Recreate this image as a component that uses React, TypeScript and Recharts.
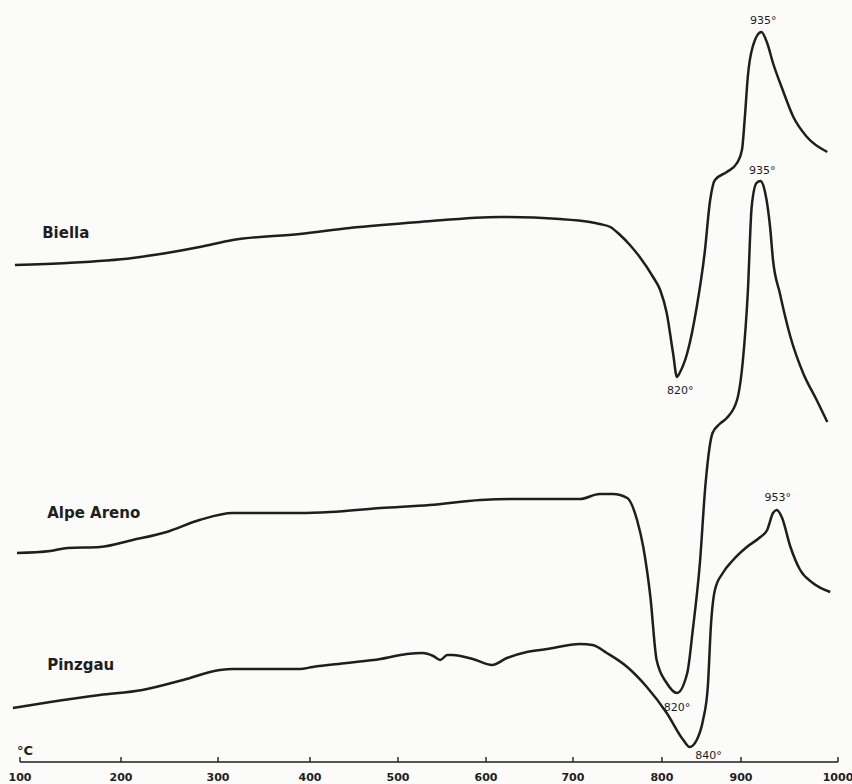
import { LineChart, Line, XAxis, YAxis, ReferenceDot } from 'recharts';

// temperature (°C) and deflection (arbitrary units)
const biellaT = [95, 147, 212, 247, 281, 316, 389, 445, 525, 616, 685, 719, 730, 742, 753, 764, 775, 790, 798, 806, 814, 819, 823, 832, 844, 854, 861, 867, 882, 895, 901, 904, 907, 912, 921, 927, 933, 943, 954, 968, 989];
const biellaV = [49.7, 49.9, 50.4, 50.9, 51.5, 52.2, 52.8, 53.4, 54.0, 54.5, 54.3, 54.0, 53.8, 53.5, 52.7, 51.7, 50.5, 48.5, 47.2, 44.9, 40.9, 38.5, 39.0, 40.9, 45.5, 50.9, 56.2, 58.2, 59.0, 59.9, 61.2, 64.5, 68.5, 71.5, 73.0, 71.9, 69.9, 67.2, 64.5, 62.5, 61.0];

const alpeT = [97, 130, 147, 179, 212, 247, 281, 316, 353, 389, 423, 480, 536, 594, 631, 689, 708, 730, 745, 761, 772, 779, 787, 794, 806, 819, 832, 839, 848, 855, 864, 873, 882, 895, 902, 907, 911, 916, 920, 925, 930, 933, 940, 951, 964, 978, 989];
const alpeV = [20.9, 21.1, 21.4, 21.5, 22.2, 23.0, 24.2, 24.9, 24.9, 24.9, 25.0, 25.4, 25.7, 26.2, 26.3, 26.3, 26.3, 26.8, 26.8, 26.4, 24.2, 21.5, 16.5, 10.2, 7.9, 6.9, 8.9, 13.2, 19.9, 27.7, 32.9, 33.8, 34.4, 36.2, 40.2, 46.9, 55.5, 57.9, 58.1, 56.9, 53.5, 50.2, 46.9, 42.5, 38.9, 36.2, 34.0];

const pinzT = [93, 130, 179, 222, 264, 302, 316, 353, 389, 403, 442, 480, 510, 528, 540, 548, 556, 562, 585, 607, 624, 647, 670, 708, 722, 738, 761, 783, 806, 827, 835, 844, 852, 858, 862, 867, 877, 890, 906, 920, 927, 933, 937, 942, 951, 961, 974, 992];
const pinzV = [5.4, 6.0, 6.7, 7.2, 8.2, 9.2, 9.3, 9.3, 9.3, 9.5, 9.9, 10.3, 10.8, 10.9, 10.6, 10.2, 10.7, 10.7, 10.3, 9.7, 10.4, 11.0, 11.3, 11.8, 11.7, 10.9, 9.5, 7.5, 4.9, 2.2, 1.5, 2.2, 4.2, 7.5, 13.7, 17.2, 18.9, 20.2, 21.5, 22.5, 23.2, 24.9, 25.2, 24.5, 21.5, 19.2, 17.9, 17.0];

const tickTemps = [100, 200, 300, 400, 500, 600, 700, 800, 900, 1000];
// where each tick sits along the printed (non-linear) axis, as a fraction of its length
const tickFrac = [0, 0.1235, 0.2421, 0.3545, 0.4621, 0.5697, 0.676, 0.7848, 0.8814, 1];

const peakLabels = [
  { t: 923, v: 74.2, text: '935°' },
  { t: 922, v: 59.2, text: '935°' },
  { t: 823, v: 37.2, text: '820°' },
  { t: 819, v: 5.5, text: '820°' },
  { t: 859, v: 0.7, text: '840°' },
  { t: 938, v: 26.5, text: '953°' },
];
const seriesNames = [
  { t: 117, v: 52.9, text: 'Biella' },
  { t: 122, v: 24.9, text: 'Alpe Areno' },
  { t: 122, v: 9.7, text: 'Pinzgau' },
];

const toRows = (ts: number[], vs: number[]) => ts.map((t, i) => ({ t, v: vs[i] }));
const biella = toRows(biellaT, biellaV);
const alpe = toRows(alpeT, alpeV);
const pinz = toRows(pinzT, pinzV);

// piecewise-linear scale following the printed temperature axis
function warpScale(): any {
  let dom: number[] = [100, 1000];
  let rng: number[] = [0, 1];
  const frac = (t: number) => {
    const n = tickTemps.length;
    let i = 0;
    if (t >= tickTemps[n - 1]) i = n - 2;
    else if (t > tickTemps[0]) while (t > tickTemps[i + 1]) i++;
    const a = tickTemps[i];
    const b = tickTemps[i + 1];
    return tickFrac[i] + ((t - a) / (b - a)) * (tickFrac[i + 1] - tickFrac[i]);
  };
  const s: any = (t: number) => rng[0] + frac(t) * (rng[1] - rng[0]);
  s.domain = (d?: number[]) => {
    if (d === undefined) return dom;
    dom = d;
    return s;
  };
  s.range = (r?: number[]) => {
    if (r === undefined) return rng;
    rng = r;
    return s;
  };
  s.copy = () => warpScale().domain(dom).range(rng);
  s.ticks = () => tickTemps;
  s.invert = (px: number) => {
    const f = (px - rng[0]) / (rng[1] - rng[0]);
    let i = 0;
    while (i < tickFrac.length - 2 && f > tickFrac[i + 1]) i++;
    return tickTemps[i] + ((f - tickFrac[i]) / (tickFrac[i + 1] - tickFrac[i])) * (tickTemps[i + 1] - tickTemps[i]);
  };
  return s;
}
const xScale = warpScale();

const INK = '#1e1e1e';
const FONT = '"DejaVu Sans", sans-serif';

const AxisTick = (props: any) => {
  const { x, y, payload } = props;
  return (
    <g>
      <line x1={x} x2={x} y1={y - 5} y2={y} stroke={INK} strokeWidth={1.4} />
      <text x={x} y={y + 19} textAnchor="middle" fontSize={11} fontWeight="bold" fontFamily={FONT} fill={INK}>
        {payload.value}
      </text>
    </g>
  );
};

export default function App() {
  return (
    <div style={{ position: 'absolute', left: 0, top: 0, width: 852, height: 784, background: '#fbfbf9' }}>
      <LineChart width={852} height={784} margin={{ top: 0, right: 14, bottom: 0, left: 20 }}>
        <XAxis
          type="number"
          dataKey="t"
          domain={[100, 1000]}
          scale={xScale}
          ticks={tickTemps}
          height={22}
          tickSize={0}
          tickMargin={0}
          tickLine={false}
          axisLine={{ stroke: INK, strokeWidth: 1.6 }}
          tick={<AxisTick />}
          interval={0}
        />
        <YAxis type="number" domain={[0, 76.2]} hide />
        <Line data={biella} dataKey="v" type="monotone" stroke={INK} strokeWidth={2.5} dot={false} isAnimationActive={false} />
        <Line data={alpe} dataKey="v" type="monotone" stroke={INK} strokeWidth={2.5} dot={false} isAnimationActive={false} />
        <Line data={pinz} dataKey="v" type="monotone" stroke={INK} strokeWidth={2.5} dot={false} isAnimationActive={false} />
        {peakLabels.map((p, i) => (
          <ReferenceDot
            key={'p' + i}
            x={p.t}
            y={p.v}
            r={0}
            fill="none"
            stroke="none"
            label={{ value: p.text, position: 'center', fontSize: 11, fill: INK, fontFamily: FONT }}
          />
        ))}
        {seriesNames.map((s, i) => (
          <ReferenceDot
            key={'s' + i}
            x={s.t}
            y={s.v}
            r={0}
            fill="none"
            stroke="none"
            label={{ value: s.text, position: 'right', fontSize: 15, fontWeight: 'bold', fill: INK, fontFamily: FONT }}
          />
        ))}
        <ReferenceDot
          x={105}
          y={1.2}
          r={0}
          fill="none"
          stroke="none"
          label={{ value: '°C', position: 'center', fontSize: 13, fontWeight: 'bold', fill: INK, fontFamily: FONT }}
        />
      </LineChart>
    </div>
  );
}
